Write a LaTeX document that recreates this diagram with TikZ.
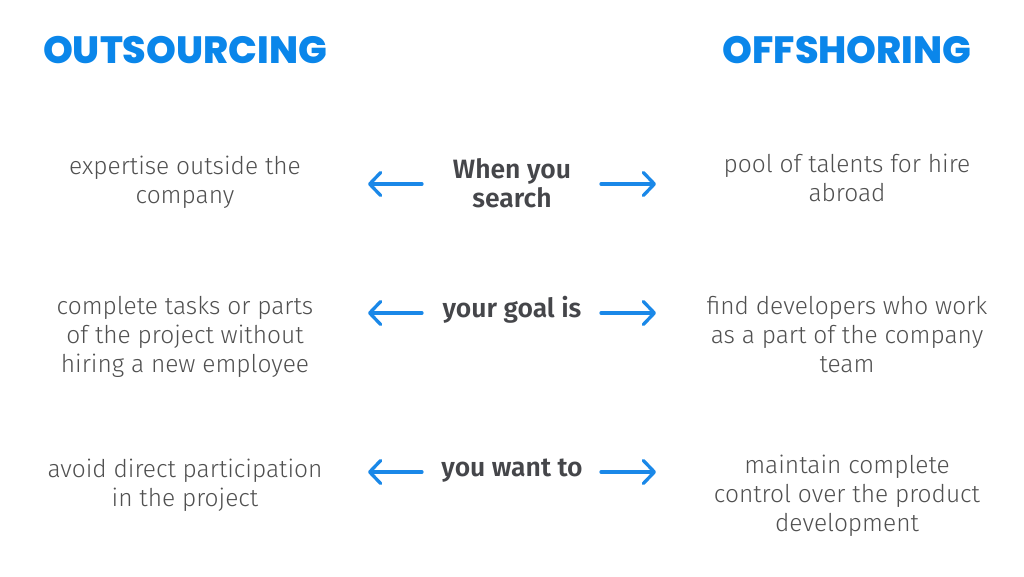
\documentclass[tikz,border=0pt]{standalone}
\usepackage{fontspec}
\setmainfont{Fira Sans Light}[BoldFont=Fira Sans SemiBold]
\newfontfamily\headfont{Poppins}[UprightFont=* ExtraBold]
\usetikzlibrary{arrows.meta}
\definecolor{hblue}{HTML}{0A86EA}
\definecolor{ablue}{HTML}{1A88E8}
\definecolor{btext}{HTML}{505050}
\definecolor{mtext}{HTML}{45464A}
\tikzset{
  head/.style={font=\headfont\fontsize{38}{40}\selectfont, text=hblue, anchor=center},
  body/.style={font=\fontsize{24.5}{29}\selectfont, text=btext, align=center, anchor=center},
  mid/.style={font=\bfseries\fontsize{26.5}{29}\selectfont, text=mtext, align=center, anchor=center},
  arr/.style={draw=ablue, line width=3.3pt, line cap=round, -{Straight Barb[length=11pt,width=23pt,line cap=round,line join=round]}}
}
\begin{document}
\begin{tikzpicture}[x=1pt,y=-1pt]
\useasboundingbox (0,0) rectangle (1024,576);
\node[head] (ho) at (185,50) {OUTSOURCING};
\node[head] (hf) at (847,50) {OFFSHORING};

\node[body] (l1) at (185,182) {expertise outside the\\company};
\node[mid] (m1) at (512,183) {When you\\search};
\node[body] (r1) at (847,178) {pool of talents for hire\\abroad};

\node[body] (l2) at (185,337) {complete tasks or parts\\of the project without\\hiring a new employee};
\node[mid] (m2) at (512,310) {your goal is};
\node[body] (r2) at (847,335) {find developers who work\\as a part of the company\\team};

\node[body] (l3) at (185,485) {avoid direct participation\\in the project};
\node[mid] (m3) at (512,471) {you want to};
\node[body] (r3) at (847,496) {maintain complete\\control over the product\\development};

\coordinate (a1l) at (368,184); \coordinate (a1r) at (656,184);
\coordinate (a2l) at (368,313); \coordinate (a2r) at (656,313);
\coordinate (a3l) at (368,472); \coordinate (a3r) at (656,472);
\draw[arr] (a1l) ++(54,0) -- (a1l);
\draw[arr] (a1r) ++(-55,0) -- (a1r);
\draw[arr] (a2l) ++(54,0) -- (a2l);
\draw[arr] (a2r) ++(-55,0) -- (a2r);
\draw[arr] (a3l) ++(54,0) -- (a3l);
\draw[arr] (a3r) ++(-55,0) -- (a3r);
\end{tikzpicture}
\end{document}
